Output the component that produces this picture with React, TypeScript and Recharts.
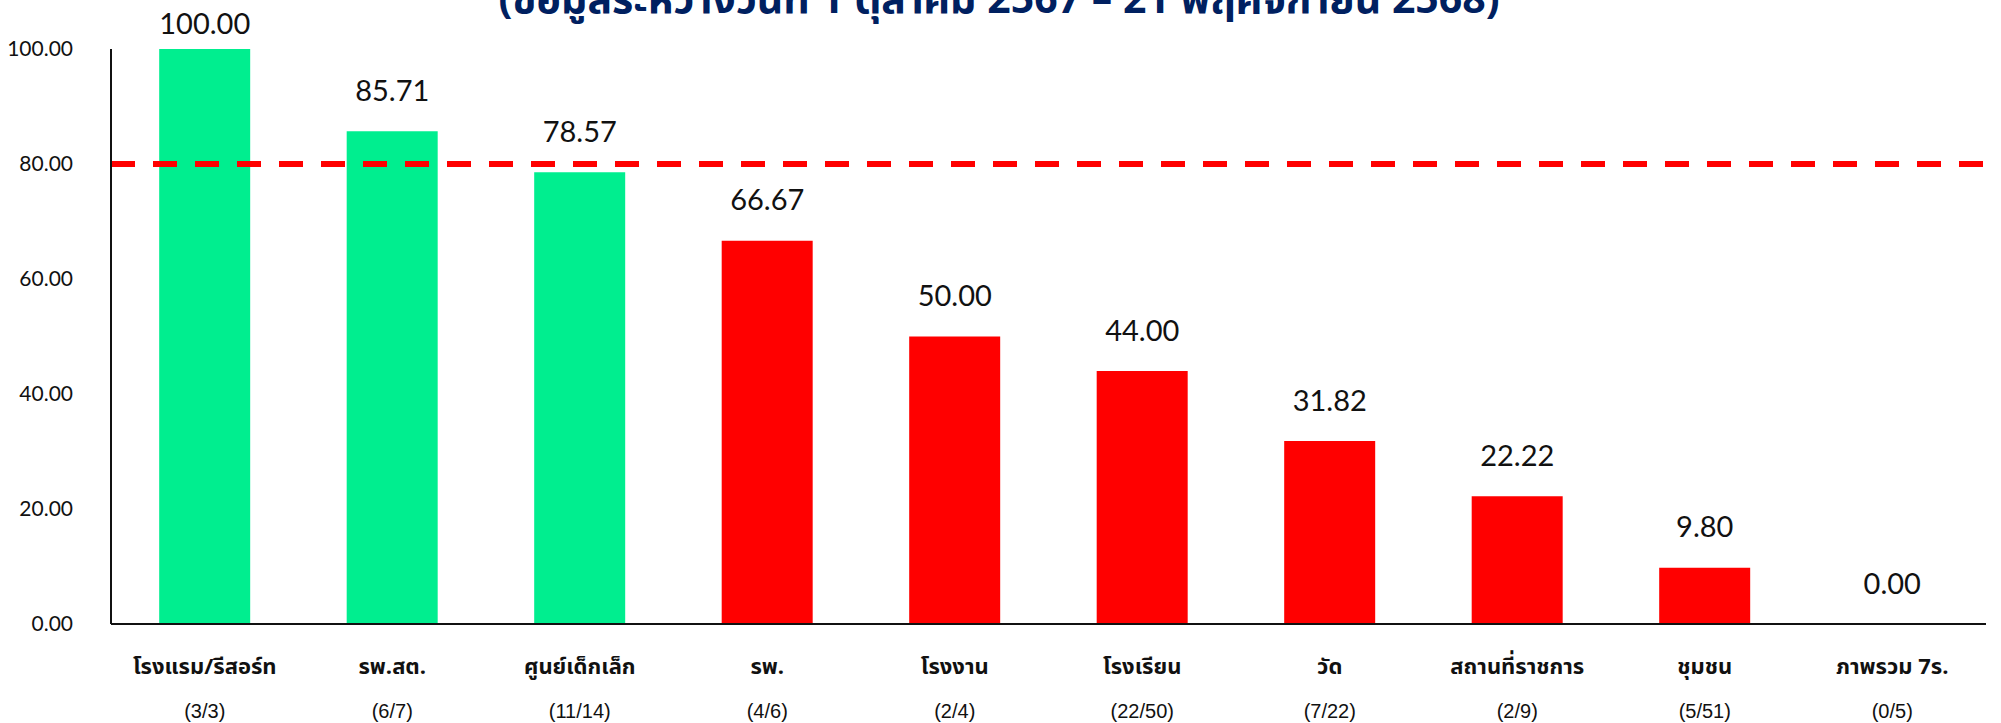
import { Bar, Cell, ComposedChart, ReferenceLine, Scatter, XAxis, YAxis } from 'recharts';

// ร้อยละสถานที่ผ่านเกณฑ์ แยกตามประเภท
const categories = [
  'โรงแรม/รีสอร์ท',
  'รพ.สต.',
  'ศูนย์เด็กเล็ก',
  'รพ.',
  'โรงงาน',
  'โรงเรียน',
  'วัด',
  'สถานที่ราชการ',
  'ชุมชน',
  'ภาพรวม 7ร.',
];
const fractions = ['(3/3)', '(6/7)', '(11/14)', '(4/6)', '(2/4)', '(22/50)', '(7/22)', '(2/9)', '(5/51)', '(0/5)'];
const percents = [100, 85.71, 78.57, 66.67, 50, 44, 31.82, 22.22, 9.8, 0];
// กลุ่มที่แสดงเป็นสีเขียวในต้นฉบับ
const passed = [true, true, true, false, false, false, false, false, false, false];
const yTicks = [0, 20, 40, 60, 80, 100];
const target = 80;
const title = '(ข้อมูลระหว่างวันที่ 1 ตุลาคม 2567 – 21 พฤศจิกายน 2568)';

const GREEN = '#00EE8F';
const RED = '#FF0000';
const NUM_FONT = 'Lato, "Noto Sans", sans-serif';
const FRAC_FONT = '"Liberation Sans", Arial, sans-serif';
const THAI_FONT = '"Noto Sans Thai", "Noto Sans", "DejaVu Sans", sans-serif';

const data = categories.map((name, i) => ({ name, frac: fractions[i], value: percents[i], ok: passed[i] }));

function CategoryTick(props: any) {
  const { x, y, payload, index } = props;
  return (
    <g>
      <text x={x} y={y + 35} textAnchor="middle" dominantBaseline="central" fontFamily={THAI_FONT} fontWeight={700} fontSize={22} fill="#111">
        {payload.value}
      </text>
      <text x={x} y={y + 79} textAnchor="middle" dominantBaseline="central" fontFamily={FRAC_FONT} fontSize={20} fill="#111">
        {fractions[index]}
      </text>
    </g>
  );
}

// ตัวเลขเหนือแท่ง วาดผ่าน Scatter เพื่อให้ค่า 0 ก็แสดงด้วย
function ValueLabel(props: any) {
  const { cx, cy, payload } = props;
  const y = Math.max(cy - 42, 22);
  return (
    <text x={cx} y={y} textAnchor="middle" dominantBaseline="central" fontFamily={NUM_FONT} fontSize={29} fill="#111">
      {Number(payload.value).toFixed(2)}
    </text>
  );
}

export default function App() {
  return (
    <div style={{ position: 'absolute', left: 0, top: 0, width: 2001, height: 723, background: '#fff' }}>
      <ComposedChart
        width={2001}
        height={723}
        data={data}
        margin={{ top: 49, right: 15, bottom: 0, left: 0 }}
        barCategoryGap="25.7%"
      >
        <text x={999} y={13} textAnchor="middle" fontFamily={THAI_FONT} fontWeight={700} fontSize={41} fill="#002060">
          {title}
        </text>
        <XAxis
          dataKey="name"
          height={99}
          interval={0}
          tickLine={false}
          axisLine={{ stroke: '#111', strokeWidth: 2 }}
          tick={<CategoryTick />}
        />
        <YAxis
          domain={[0, 100]}
          ticks={yTicks}
          width={111}
          tickLine={false}
          axisLine={{ stroke: '#111', strokeWidth: 2 }}
          tickMargin={32}
          tickFormatter={(v: number) => v.toFixed(2)}
          tick={{ fontFamily: NUM_FONT, fontSize: 21, fill: '#111' }}
        />
        <ReferenceLine y={target} stroke={RED} strokeWidth={6} strokeDasharray="24 18" ifOverflow="visible" />
        <Bar dataKey="value" isAnimationActive={false}>
          {data.map((d) => (
            <Cell key={d.name} fill={d.ok ? GREEN : RED} />
          ))}
        </Bar>
        <Scatter dataKey="value" isAnimationActive={false} shape={<ValueLabel />} />
      </ComposedChart>
    </div>
  );
}
